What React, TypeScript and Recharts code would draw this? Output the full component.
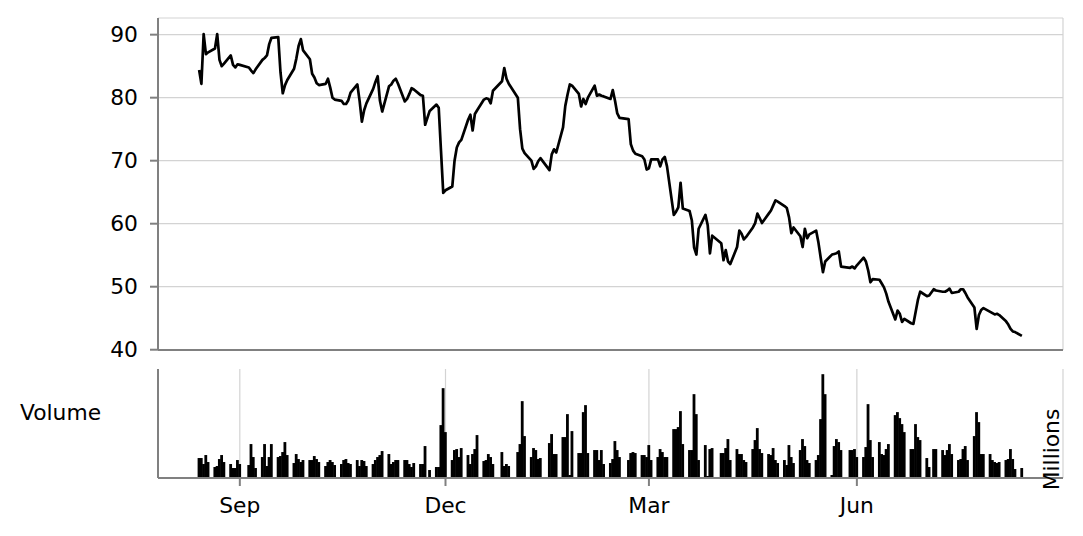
import React from 'react';
import { LineChart, Line, BarChart, Bar, XAxis, YAxis, CartesianGrid } from 'recharts';

// Trading calendar (NYSE weekdays minus market holidays)
const START = '2017-08-14';
const END = '2018-08-13';
const HOLIDAYS = [
  '2017-09-04', '2017-11-23', '2017-12-25', '2018-01-01', '2018-01-15',
  '2018-02-19', '2018-03-30', '2018-05-28', '2018-07-04',
];

// Closing price, one per trading day
const price = [
  84.4, 82.2, 90.1, 86.9, 87.2,
  87.8, 90.1, 86.0, 85.0, 85.4,
  86.7, 85.2, 84.8, 85.3, 85.2,
  84.8, 84.3, 83.9, 84.5,
  86.0, 86.3, 86.7, 88.5, 89.5,
  89.6, 84.0, 80.7, 82.0, 82.8,
  84.6, 86.2, 88.2, 89.3, 87.5,
  86.1, 83.8, 83.2, 82.3, 82.0,
  82.2, 83.0, 81.6, 80.0, 79.7,
  79.5, 79.0, 79.0, 79.6, 80.8,
  82.1, 79.5, 76.2, 78.0, 79.1,
  81.4, 82.5, 83.4, 79.5, 77.8,
  81.8, 82.1, 82.7, 83.0, 82.2,
  79.4, 79.8, 80.6, 81.5, 81.3,
  80.4, 80.3, 75.7, 77.9,
  78.9, 78.4, 71.6, 64.9, 65.3,
  65.9, 70.0, 72.1, 72.9, 73.3,
  76.5, 77.3, 74.8, 77.4, 78.0,
  79.7, 79.9, 79.8, 79.1, 81.1,
  82.6, 84.7, 83.0, 82.2,
  80.0, 75.0, 71.9, 71.2,
  70.0, 68.7, 69.1, 69.9, 70.4,
  68.5, 71.0, 71.8, 71.3,
  75.3, 78.7, 80.5, 82.1, 81.9,
  80.6, 78.6, 79.8, 79.0, 80.0,
  81.9, 80.3, 80.5, 80.3, 80.2,
  79.8, 81.2, 79.5, 77.5, 76.8,
  76.6, 72.6, 71.6, 71.1,
  70.7, 70.2, 68.6, 68.8, 70.2,
  70.2, 69.1, 70.2, 70.6, 69.1,
  61.4, 61.9, 62.6, 66.5, 62.4,
  62.0, 60.5, 56.2, 55.1, 59.2,
  61.4, 59.8, 55.3, 58.1,
  56.9, 54.2, 55.8, 54.0, 53.6,
  56.3, 58.9, 58.4, 57.5, 57.9,
  59.4, 60.1, 61.6, 60.9, 60.1,
  61.6, 62.1, 62.9, 63.7, 63.5,
  62.8, 62.5, 61.0, 58.5, 59.4,
  58.0, 56.3, 59.2, 57.7, 58.3,
  58.9, 57.0, 54.6, 52.3, 54.0,
  55.1, 55.2, 55.3, 55.6, 53.2,
  53.0, 53.2, 52.9, 53.4,
  54.6, 54.0, 52.6, 50.7, 51.2,
  51.1, 50.5, 49.9, 48.9, 47.6,
  44.8, 46.2, 45.7, 44.4, 44.9,
  44.2, 44.1, 46.0, 47.9, 49.2,
  48.5, 48.6, 49.6, 49.4,
  49.2, 49.2, 49.4, 49.7, 49.0,
  49.2, 49.6, 49.6, 49.0, 48.3,
  46.7, 43.3, 45.5, 46.3, 46.6,
  46.0, 45.8, 45.6, 45.7, 45.5,
  44.5, 44.0, 43.3, 42.9, 42.8,
  42.2,
];

// Volume in millions, one per trading day
const volume = [
  2.0, 2.0, 1.4, 2.3, 1.6,
  1.1, 1.2, 1.9, 2.3, 1.6,
  1.4, 1.0, 1.0, 1.8, 1.4,
  1.3, 3.4, 2.1, 1.0,
  2.1, 3.4, 1.2, 2.1, 3.4,
  2.1, 2.2, 2.6, 3.6, 2.3,
  1.5, 2.4, 1.9, 1.6, 1.8,
  1.8, 1.8, 2.2, 1.9, 1.6,
  1.2, 1.6, 1.8, 1.6, 1.3,
  1.4, 1.8, 1.9, 1.5, 1.4,
  1.8, 1.2, 1.8, 1.7, 1.2,
  1.4, 1.8, 2.1, 2.3, 2.7,
  2.4, 1.4, 1.6, 1.8, 1.8,
  1.8, 1.8, 1.4, 1.1, 1.5,
  1.4, 1.4, 3.2, 0.8,
  1.1, 1.1, 5.3, 9.0, 4.6,
  1.8, 2.8, 2.9, 2.1, 3.0,
  2.3, 1.4, 2.4, 2.9, 4.3,
  1.7, 1.8, 2.4, 2.1, 1.4,
  2.6, 1.2, 1.4, 1.2,
  2.6, 3.4, 7.7, 4.2,
  2.1, 3.0, 2.8, 1.9, 2.0,
  3.5, 4.4, 2.4, 2.4,
  4.1, 4.1, 6.4, 0.3, 4.7,
  2.5, 2.5, 6.6, 7.3, 2.5,
  2.8, 2.8, 1.8, 2.8, 1.4,
  1.5, 1.9, 3.7, 2.8, 2.1,
  1.8, 2.5, 2.6, 2.5,
  2.3, 2.3, 2.1, 3.3, 1.8,
  2.1, 2.9, 2.6, 2.1, 2.1,
  4.9, 4.9, 5.1, 6.7, 3.4,
  2.8, 2.8, 8.4, 6.4, 1.8,
  3.3, 0.2, 2.9, 3.0,
  2.5, 2.5, 3.0, 3.9, 1.8,
  2.9, 2.4, 2.4, 1.8, 1.6,
  2.9, 3.8, 5.0, 2.9, 2.5,
  2.4, 2.3, 3.0, 1.8, 1.5,
  1.8, 1.3, 3.3, 2.1, 1.5,
  2.8, 3.9, 3.2, 1.8, 1.5,
  1.8, 2.3, 5.9, 10.4, 8.4,
  0.3, 3.2, 3.9, 3.6, 2.8,
  2.8, 2.8, 2.9, 2.1,
  2.1, 3.1, 7.4, 3.8, 2.1,
  3.6, 2.4, 2.3, 2.9, 3.4,
  6.3, 6.6, 6.0, 5.4, 4.6,
  2.9, 2.9, 5.4, 4.1, 3.8,
  2.0, 1.1, 2.9, 2.9,
  2.8, 2.3, 2.8, 3.4, 2.4,
  1.8, 1.9, 2.9, 3.2, 1.8,
  4.2, 6.6, 5.6, 2.4, 2.4,
  2.4, 1.8, 1.6, 1.5, 1.6,
  1.8, 1.9, 2.9, 1.9, 0.9,
  1.0,
];

const priceTicks = [40, 50, 60, 70, 80, 90];
const priceGridDates = ['2017-09-01', '2017-11-01', '2018-01-01', '2018-03-01', '2018-05-01', '2018-07-01'];
const volumeTickDates = ['2017-09-01', '2017-12-01', '2018-03-01', '2018-06-01'];
const MONTHS = ['Jan', 'Feb', 'Mar', 'Apr', 'May', 'Jun', 'Jul', 'Aug', 'Sep', 'Oct', 'Nov', 'Dec'];

const DAY = 86400000;
const toMs = (s: string) => Date.parse(s + 'T00:00:00Z');

function tradingDays(): number[] {
  const out: number[] = [];
  const hol = new Set(HOLIDAYS.map(toMs));
  for (let t = toMs(START); t <= toMs(END); t += DAY) {
    const wd = new Date(t).getUTCDay();
    if (wd === 0 || wd === 6 || hol.has(t)) continue;
    out.push(t);
  }
  return out;
}

const dates = tradingDays();
const data = dates.map((t, i) => ({ t, price: price[i], volume: volume[i] }));

const span = toMs(END) - toMs(START);
const xDomain: [number, number] = [toMs(START) - span * 0.05, toMs(END) + span * 0.05];
const priceMin = 42.35;
const priceMax = 90.25;
const pr = priceMax - priceMin;
const priceDomain: [number, number] = [priceMin - pr * 0.05, priceMax + pr * 0.05];
const volMax = Math.max(...volume);
const volDomain: [number, number] = [0, volMax * 1.05];

const FONT = 'DejaVu Sans';
const FS = 21.8;
const SPINE = '#808080';
const GRID = '#d3d3d3';

const W = 1083;
const H = 536;
const BAR_W = 2.8;

const VolumeBar = (props: any) => {
  const { x, y, width, height } = props;
  if (height == null || !isFinite(height) || height <= 0) return null;
  const cx = x + width / 2;
  return <rect x={cx - BAR_W / 2} y={y} width={BAR_W} height={height} fill="#000" />;
};

export default function App() {
  return (
    <div style={{ position: 'absolute', left: 0, top: 0, width: W, height: H, background: '#fff', fontFamily: FONT }}>
      <div style={{ position: 'absolute', left: 0, top: 0 }}>
        <LineChart width={W} height={H} data={data} margin={{ top: 18, right: 20, bottom: 0, left: 0 }}>
          <CartesianGrid stroke={GRID} strokeWidth={1.2} />
          <XAxis
            dataKey="t"
            type="number"
            domain={xDomain}
            ticks={priceGridDates.map(toMs)}
            interval={0}
            height={186}
            tick={false}
            tickLine={false}
            axisLine={{ stroke: SPINE, strokeWidth: 2 }}
          />
          <YAxis
            type="number"
            domain={priceDomain}
            ticks={priceTicks}
            interval={0}
            width={158}
            tickSize={8}
            tickMargin={12}
            axisLine={{ stroke: SPINE, strokeWidth: 2 }}
            tickLine={{ stroke: SPINE, strokeWidth: 2 }}
            tick={{ fill: '#000', fontSize: FS, fontFamily: FONT }}
          />
          <Line
            type="linear"
            dataKey="price"
            stroke="#000"
            strokeWidth={2.7}
            strokeLinejoin="round"
            dot={false}
            isAnimationActive={false}
          />
        </LineChart>
      </div>
      <div style={{ position: 'absolute', left: 0, top: 0 }}>
        <BarChart width={W} height={H} data={data} margin={{ top: 369, right: 20, bottom: 0, left: 0 }}>
          <CartesianGrid stroke={GRID} strokeWidth={1.2} horizontal={false} />
          <XAxis
            dataKey="t"
            type="number"
            domain={xDomain}
            ticks={volumeTickDates.map(toMs)}
            interval={0}
            height={58}
            tickSize={8}
            tickMargin={12}
            tickFormatter={(v: number) => MONTHS[new Date(v).getUTCMonth()]}
            axisLine={{ stroke: SPINE, strokeWidth: 2 }}
            tickLine={{ stroke: SPINE, strokeWidth: 2 }}
            tick={{ fill: '#000', fontSize: FS, fontFamily: FONT }}
          />
          <YAxis
            type="number"
            domain={volDomain}
            width={158}
            tick={false}
            tickLine={false}
            axisLine={{ stroke: SPINE, strokeWidth: 2 }}
          />
          <Bar dataKey="volume" fill="#000" barSize={2} shape={VolumeBar} isAnimationActive={false} />
        </BarChart>
      </div>
      <svg width={W} height={H} style={{ position: 'absolute', left: 0, top: 0, pointerEvents: 'none' }}>
        <text x={20} y={420} fontFamily={FONT} fontSize={FS} fill="#000">Volume</text>
        <text
          transform="translate(1059, 449.5) rotate(-90)"
          textAnchor="middle"
          fontFamily={FONT}
          fontSize={FS}
          fill="#000"
        >
          Millions
        </text>
      </svg>
    </div>
  );
}
